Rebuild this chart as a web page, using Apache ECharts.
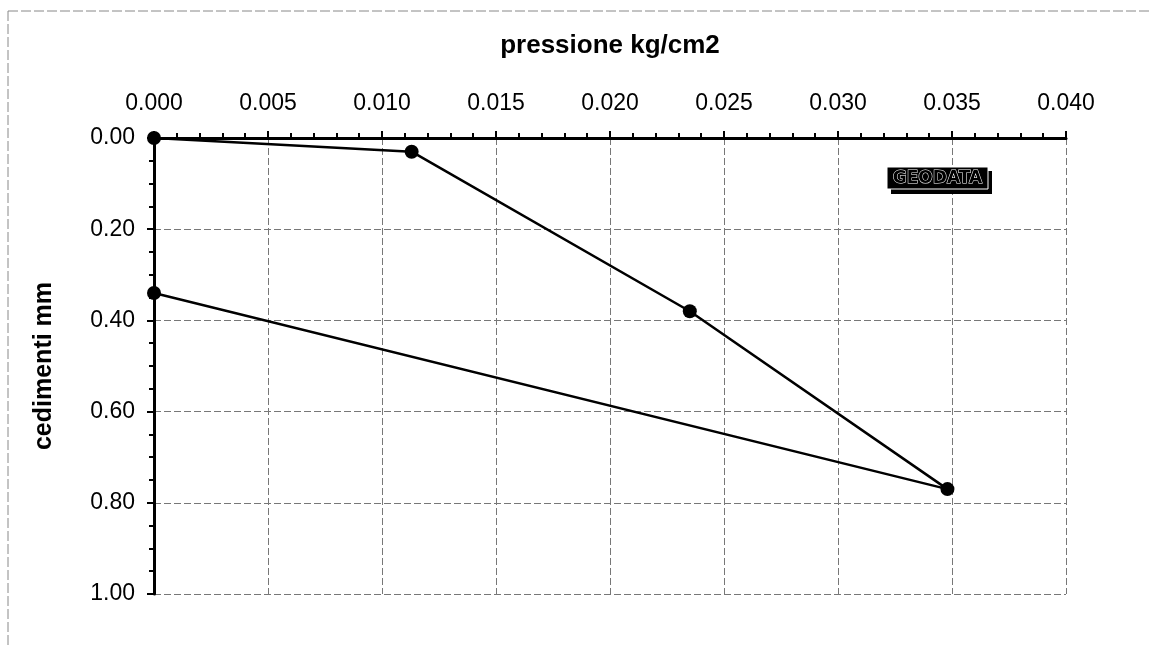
<!DOCTYPE html>
<html>
<head>
<meta charset="utf-8">
<script src="https://cdn.jsdelivr.net/npm/echarts@6/dist/echarts.min.js"></script>
<style>html,body{margin:0;padding:0;background:#fff}#c{width:1150px;height:648px}</style>
</head>
<body>
<div id="c"></div>
<script>
// data (loading then unloading path)
const pressione = [0.000, 0.0113, 0.0235, 0.0348, 0.000];
const cedimenti = [0.00, 0.03, 0.38, 0.77, 0.34];
const xTicks = [0.000, 0.005, 0.010, 0.015, 0.020, 0.025, 0.030, 0.035, 0.040];
const yTicks = [0.00, 0.20, 0.40, 0.60, 0.80, 1.00];
const xName = 'pressione kg/cm2';
const yName = 'cedimenti mm';
const logoText = 'GEODATA';

const points = pressione.map((p, i) => [p, cedimenti[i]]);
const font = 'Liberation Sans, Arial, sans-serif';

const chart = echarts.init(document.getElementById('c'));
chart.setOption({
  animation: false,
  backgroundColor: '#fff',
  grid: { left: 154, top: 138, right: 84, bottom: 54, containLabel: false },
  xAxis: {
    type: 'value', position: 'top',
    min: xTicks[0], max: xTicks[xTicks.length - 1], interval: 0.005,
    name: xName, nameLocation: 'middle', nameGap: 79, nameMoveOverlap: false,
    nameTextStyle: { fontFamily: font, fontSize: 26, fontWeight: 'bold', color: '#000' },
    axisLine: { lineStyle: { color: '#000', width: 3 } },
    axisTick: { show: true, length: 7, lineStyle: { color: '#000', width: 2 } },
    minorTick: { show: true, splitNumber: 5, length: 5, lineStyle: { color: '#000', width: 2 } },
    axisLabel: { fontFamily: font, fontSize: 23, color: '#000', margin: 23,
      formatter: v => v.toFixed(3) },
    splitLine: { show: true, lineStyle: { color: '#777', width: 1, type: [7, 3] } }
  },
  yAxis: {
    type: 'value', inverse: true,
    min: yTicks[0], max: yTicks[yTicks.length - 1], interval: 0.2,
    name: yName, nameLocation: 'middle', nameGap: 97, nameRotate: 90, nameMoveOverlap: false,
    nameTextStyle: { fontFamily: font, fontSize: 25, fontWeight: 'bold', color: '#000' },
    axisLine: { lineStyle: { color: '#000', width: 3 } },
    axisTick: { show: true, length: 7, lineStyle: { color: '#000', width: 2 } },
    minorTick: { show: true, splitNumber: 4, length: 5, lineStyle: { color: '#000', width: 2 } },
    axisLabel: { fontFamily: font, fontSize: 23, color: '#000', margin: 19,
      formatter: v => v.toFixed(2) },
    splitLine: { show: true, lineStyle: { color: '#777', width: 1, type: [7, 3] } }
  },
  series: [{
    type: 'line',
    data: points,
    symbol: 'circle', symbolSize: 14,
    itemStyle: { color: '#000' },
    lineStyle: { color: '#000', width: 2.5 },
    z: 5
  }],
  graphic: [
    { type: 'line', shape: { x1: 8, y1: 11, x2: 1150, y2: 11 },
      style: { stroke: '#888', lineWidth: 1, lineDash: [10, 3] } },
    { type: 'line', shape: { x1: 8, y1: 11, x2: 8, y2: 648 },
      style: { stroke: '#888', lineWidth: 1, lineDash: [10, 3] } },
    { type: 'rect', shape: { x: 891, y: 171, width: 101, height: 23 },
      style: { fill: '#000' }, z: 10 },
    { type: 'rect', shape: { x: 887, y: 167, width: 101, height: 22 },
      style: { fill: '#000', stroke: '#fff', lineWidth: 1 }, z: 11 },
    { type: 'rect', shape: { x: 889, y: 169, width: 97, height: 18 },
      style: { fill: '#000' }, z: 12 },
    { type: 'text', x: 937.5, y: 178.5, z: 13,
      style: { text: logoText, fontFamily: 'DejaVu Sans, sans-serif', fontSize: 17, fontWeight: 'bold',
        fill: '#000', stroke: '#fff', lineWidth: 1, align: 'center', verticalAlign: 'middle' } }
  ]
});
</script>
</body>
</html>
